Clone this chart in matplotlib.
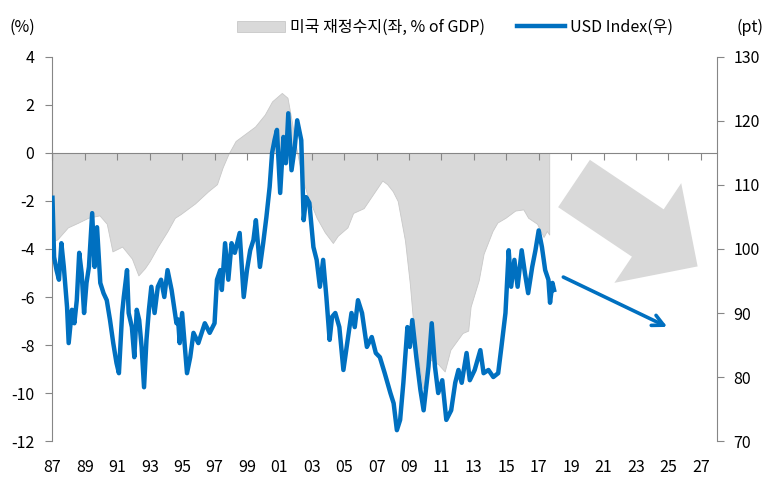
import numpy as np
import matplotlib
matplotlib.use("Agg")
import matplotlib.pyplot as plt
from matplotlib.patches import FancyArrow
from matplotlib.transforms import IdentityTransform

plt.rcParams['font.family'] = ['Noto Sans CJK KR', 'DejaVu Sans']
plt.rcParams['axes.unicode_minus'] = False

# 미국 재정수지 (% of GDP, 좌축)
bal_year = [1987.0, 1987.3, 1987.95, 1988.6, 1989.2, 1989.9, 1990.35, 1990.7, 1991.3, 1991.9,
            1992.3, 1992.7, 1993.0, 1993.5, 1994.1, 1994.55, 1994.9, 1995.2, 1995.8, 1996.6,
            1997.15, 1997.5, 1997.85, 1998.3, 1998.9, 1999.5, 2000.1, 2000.55, 2001.15, 2001.5,
            2001.65, 2001.9, 2002.1, 2002.4, 2002.7, 2003.3, 2003.8, 2004.3, 2004.6, 2005.2,
            2005.55, 2006.2, 2006.7, 2007.35, 2007.65, 2008.0, 2008.3, 2008.75, 2009.05, 2009.35,
            2009.7, 2009.85, 2010.3, 2010.8, 2011.2, 2011.55, 2012.3, 2012.65, 2012.8, 2013.3,
            2013.6, 2014.15, 2014.45, 2014.95, 2015.55, 2016.05, 2016.35, 2016.9, 2017.3, 2017.5,
            2017.65]
bal_val = [-3.7, -3.6, -3.1, -2.9, -2.7, -2.6, -2.95, -4.1, -3.9, -4.4,
           -5.1, -4.8, -4.5, -3.9, -3.25, -2.7, -2.55, -2.4, -2.1, -1.6,
           -1.3, -0.6, -0.05, 0.5, 0.8, 1.1, 1.6, 2.15, 2.5, 2.3,
           1.75, 0.8, 0.0, -1.0, -1.7, -2.7, -3.3, -3.75, -3.45, -3.1,
           -2.5, -2.3, -1.8, -1.15, -1.3, -1.6, -2.0, -3.65, -5.45, -7.8,
           -9.05, -9.8, -8.6, -8.8, -9.1, -8.2, -7.5, -7.4, -6.4, -5.3,
           -4.2, -3.25, -2.9, -2.7, -2.4, -2.35, -2.7, -2.95, -3.5, -3.25,
           -3.4]

# USD Index (pt, 우축)
usd_year = [1987.0, 1987.1, 1987.25, 1987.4, 1987.55, 1987.7, 1987.9, 1988.0, 1988.2, 1988.35,
            1988.5, 1988.65, 1988.8, 1988.95, 1989.1, 1989.25, 1989.45, 1989.6, 1989.75, 1989.95,
            1990.15, 1990.35, 1990.55, 1990.75, 1990.95, 1991.1, 1991.3, 1991.4, 1991.6, 1991.7,
            1991.9, 1992.05, 1992.2, 1992.35, 1992.5, 1992.65, 1992.8, 1992.95, 1993.1, 1993.3,
            1993.5, 1993.7, 1993.9, 1994.1, 1994.35, 1994.65, 1994.75, 1994.85, 1995.0, 1995.3,
            1995.5, 1995.7, 1996.0, 1996.4, 1996.7, 1997.0, 1997.15, 1997.35, 1997.45, 1997.65,
            1997.85, 1998.05, 1998.25, 1998.55, 1998.8, 1999.0, 1999.2, 1999.4, 1999.55, 1999.8,
            2000.0, 2000.2, 2000.4, 2000.55, 2000.7, 2000.85, 2001.05, 2001.25, 2001.4, 2001.55,
            2001.75, 2001.95, 2002.1, 2002.35, 2002.5, 2002.65, 2002.85, 2003.1, 2003.3, 2003.5,
            2003.7, 2003.9, 2004.1, 2004.25, 2004.45, 2004.7, 2004.95, 2005.15, 2005.45, 2005.65,
            2005.85, 2006.1, 2006.4, 2006.7, 2006.95, 2007.2, 2007.5, 2007.85, 2008.05, 2008.25,
            2008.45, 2008.65, 2008.9, 2009.05, 2009.2, 2009.45, 2009.7, 2009.9, 2010.2, 2010.4,
            2010.6, 2010.8, 2011.05, 2011.3, 2011.6, 2011.85, 2012.05, 2012.25, 2012.55, 2012.75,
            2013.05, 2013.4, 2013.6, 2013.9, 2014.2, 2014.5, 2014.7, 2014.95, 2015.15, 2015.3,
            2015.5, 2015.7, 2015.95, 2016.15, 2016.35, 2016.6, 2016.8, 2017.0, 2017.2, 2017.4,
            2017.6, 2017.7, 2017.85, 2017.95]
usd_val = [108.0, 98.75, 96.7, 95.2, 100.9, 97.2, 90.9, 85.3, 90.5, 88.4,
           92.0, 99.4, 96.25, 90.0, 94.7, 97.2, 105.6, 97.2, 103.4, 94.7,
           93.1, 92.0, 88.9, 85.3, 82.2, 80.6, 90.0, 92.5, 96.7, 90.0,
           87.8, 83.1, 90.5, 88.9, 84.7, 78.4, 85.8, 90.5, 94.1, 90.0,
           94.1, 95.2, 92.5, 96.7, 93.6, 88.4, 89.0, 85.3, 90.0, 80.6,
           83.1, 86.9, 85.3, 88.4, 86.9, 88.4, 95.2, 96.7, 93.6, 100.9,
           95.2, 100.9, 99.4, 102.5, 92.5, 96.7, 99.8, 101.4, 104.5, 97.2,
           100.9, 105.0, 109.7, 115.0, 117.0, 118.6, 108.75, 117.5, 113.4, 121.2,
           112.3, 115.9, 120.1, 117.0, 104.5, 108.1, 107.2, 100.3, 98.3, 94.1,
           98.3, 92.5, 85.8, 89.4, 90.0, 87.8, 81.1, 84.7, 90.0, 87.8,
           92.0, 90.0, 84.7, 86.25, 83.75, 83.1, 80.6, 77.5, 75.9, 71.7,
           73.3, 79.1, 87.8, 84.7, 88.9, 83.1, 78.0, 74.8, 81.6, 88.4,
           81.6, 77.5, 79.5, 73.3, 74.8, 79.1, 81.1, 79.1, 83.75, 79.5,
           81.1, 84.2, 80.6, 81.1, 80.0, 80.6, 84.7, 90.0, 99.8, 94.1,
           98.3, 94.1, 99.8, 96.25, 93.1, 97.2, 99.8, 102.9, 100.3, 96.7,
           95.2, 91.6, 94.7, 93.6]

xticks = list(range(1987, 2028, 2))
xlabels = ['%02d' % (y % 100) for y in xticks]

gray = '#D9D9D9'
blue = '#0070C0'
axcol = '#868686'

fig = plt.figure(figsize=(7.66, 4.95), dpi=100)
ax = fig.add_axes([0.0685, 0.109, 0.8675, 0.776])
ax2 = ax.twinx()

ax.fill_between(bal_year, bal_val, 0, color=gray, edgecolor='#C8C8C8', lw=0.6,
                label='미국 재정수지(좌, % of GDP)')
ax2.plot(usd_year, usd_val, color=blue, lw=3.2, label='USD Index(우)')

ax.set_xlim(1987, 2028)
ax.set_ylim(-12, 4)
ax.set_yticks(range(-12, 5, 2))
ax2.set_ylim(70, 130)
ax2.set_yticks(range(70, 131, 10))

for s in ['top', 'right']:
    ax.spines[s].set_visible(False)
for s in ['top', 'bottom', 'left']:
    ax2.spines[s].set_visible(False)
ax.spines['left'].set_color(axcol)
ax2.spines['right'].set_color(axcol)
ax.spines['bottom'].set_position(('data', 0))
ax.spines['bottom'].set_color(axcol)

ax.set_xticks(xticks)
ax.tick_params(axis='x', direction='out', length=5, color=axcol, labelbottom=False)
ax.tick_params(axis='y', direction='out', length=5, color=axcol, labelsize=11.5, pad=8)
ax2.tick_params(axis='y', direction='out', length=5, color=axcol, labelsize=11.5, pad=7)

sec = ax.secondary_xaxis(0)
sec.set_xticks(xticks, xlabels)
sec.spines['bottom'].set_visible(False)
sec.tick_params(length=0, labelsize=11.5, pad=13)

fig.text(0.012, 0.945, '(%)', fontsize=11.5, va='center')
fig.text(0.962, 0.945, '(pt)', fontsize=11.5, va='center')

h1, l1 = ax.get_legend_handles_labels()
h2, l2 = ax2.get_legend_handles_labels()
fig.legend(h1 + h2, l1 + l2, loc='center', bbox_to_anchor=(0.594, 0.945), ncol=2,
           frameon=False, fontsize=11.5, handlelength=3.0, handletextpad=0.3,
           columnspacing=2.0)

# 하락 전망 화살표 (회색 블록, 파란 선)
big = FancyArrow(574, 495 - 183.5, 123 * 0.6, -82.5 * 0.6, width=57, head_width=120,
                 head_length=60, length_includes_head=False, color=gray, lw=0,
                 transform=IdentityTransform())
fig.patches.append(big)

ax.annotate('', xy=(0.929, 0.294), xytext=(0.765, 0.430), xycoords='axes fraction',
            arrowprops=dict(arrowstyle='->', lw=2.6, color=blue, mutation_scale=20))

fig.savefig('out.png', dpi=100)
